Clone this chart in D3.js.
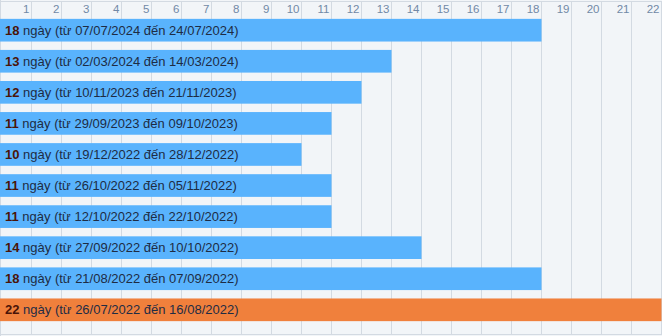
<!DOCTYPE html>
<html>
<head>
<meta charset="utf-8">
<script src="https://cdn.jsdelivr.net/npm/d3@7"></script>
<style>
  html, body { margin: 0; padding: 0; background: #fff; }
  svg { display: block; font-family: "Liberation Sans", Arial, sans-serif; }
</style>
</head>
<body>
<svg id="chart" width="662" height="336"></svg>
<script>
// Streak lengths (days) with their start and end dates
const days   = [18, 13, 12, 11, 10, 11, 11, 14, 18, 22];
const starts = ["07/07/2024", "02/03/2024", "10/11/2023", "29/09/2023", "19/12/2022",
                "26/10/2022", "12/10/2022", "27/09/2022", "21/08/2022", "26/07/2022"];
const ends   = ["24/07/2024", "14/03/2024", "21/11/2023", "09/10/2023", "28/12/2022",
                "05/11/2022", "22/10/2022", "10/10/2022", "07/09/2022", "16/08/2022"];
const dayTicks = d3.range(1, 23);

const W = 662, H = 336;
const svg = d3.select("#chart");

svg.append("rect").attr("x", 0).attr("y", 0).attr("width", W).attr("height", H)
  .attr("fill", "#f2f5f8");

const x = d3.scaleLinear().domain([0, 22]).range([1.5, 661.5]);
const y = d3.scaleBand().domain(d3.range(days.length)).range([14.5, 325.5]).paddingInner(0.27).paddingOuter(0.14);

// vertical grid
svg.append("g").selectAll("line").data(dayTicks).join("line")
  .attr("x1", d => x(d)).attr("x2", d => x(d))
  .attr("y1", 2).attr("y2", 335)
  .attr("stroke", "#d3dae2").attr("stroke-width", 1);

// frame lines
svg.append("line").attr("x1", 0).attr("x2", W).attr("y1", 1.5).attr("y2", 1.5)
  .attr("stroke", "#d3dae2");
svg.append("line").attr("x1", 0).attr("x2", W).attr("y1", 334.5).attr("y2", 334.5)
  .attr("stroke", "#d3dae2");
svg.append("line").attr("x1", 0.5).attr("x2", 0.5).attr("y1", 0).attr("y2", H)
  .attr("stroke", "#d3dae2");

// day labels along the top
svg.append("g").selectAll("text").data(dayTicks).join("text")
  .attr("x", d => x(d) - 2).attr("y", 13)
  .attr("text-anchor", "end")
  .attr("font-size", 11.5)
  .attr("fill", "#7189a6")
  .text(d => d);

const maxDays = d3.max(days);
const rows = days.map((d, i) => ({ i, d, s: starts[i], e: ends[i] }));

const g = svg.append("g");
g.selectAll("rect.bar").data(rows).join("rect")
  .attr("class", "bar")
  .attr("x", 0)
  .attr("y", r => y(r.i))
  .attr("width", r => x(r.d))
  .attr("height", y.bandwidth())
  .attr("fill", r => r.d === maxDays ? "#f0803c" : "#59b3fd");

const lbl = g.selectAll("text.lbl").data(rows).join("text")
  .attr("class", "lbl")
  .attr("x", 5)
  .attr("y", r => y(r.i) + y.bandwidth() / 2 + 4.5)
  .attr("font-size", 13);
lbl.append("tspan").attr("font-weight", "bold").attr("fill", "#4a1408").text(r => r.d);
lbl.append("tspan").attr("fill", "#1e2c44").text(r => ` ngày (từ ${r.s} đến ${r.e})`);
</script>
</body>
</html>
